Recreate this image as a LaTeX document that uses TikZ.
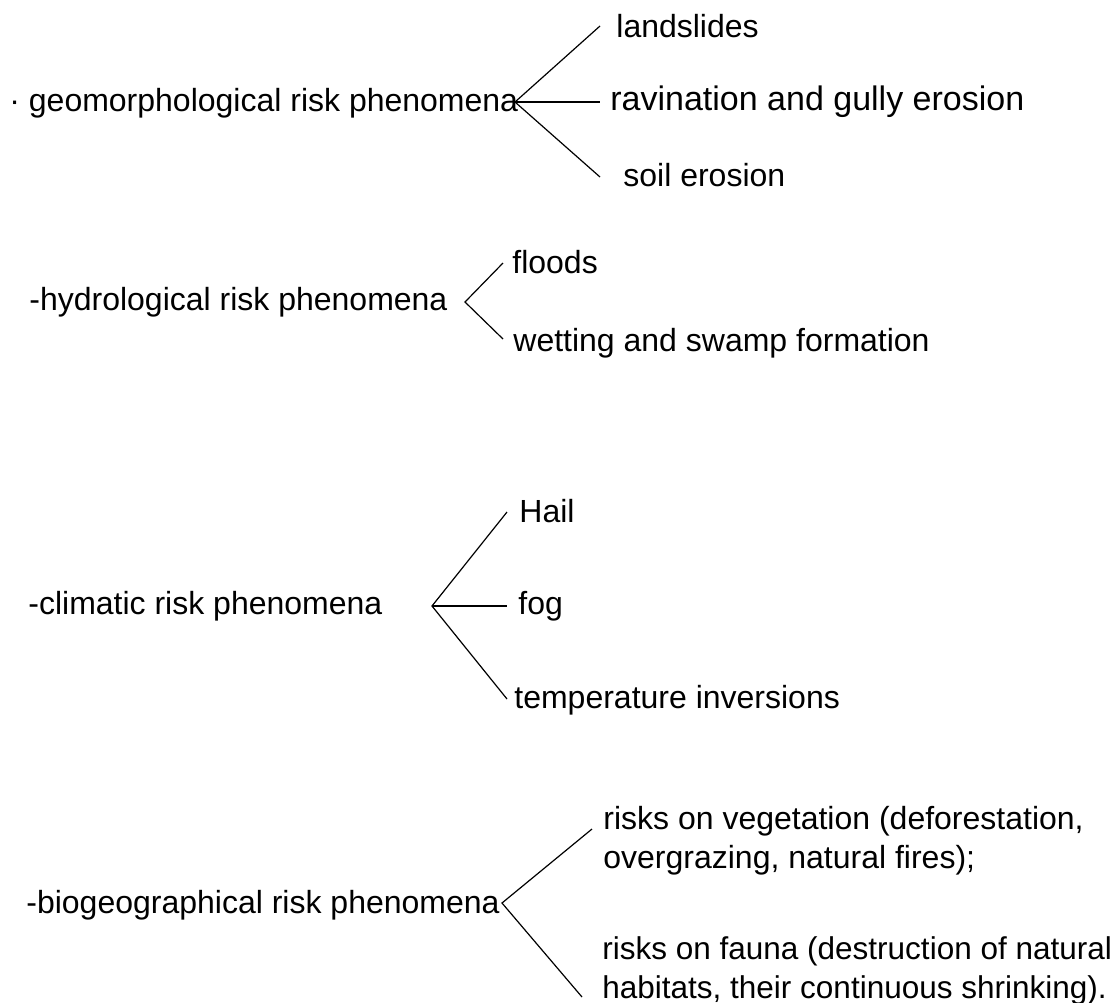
\documentclass[tikz,border=0pt]{standalone}
\usepackage{fontspec}
\setmainfont{Liberation Sans}

\begin{document}
\begin{tikzpicture}[x=0.5pt,y=-0.5pt,
  txt/.style={anchor=base west,inner sep=0pt,align=left,
    font=\fontsize{16}{19.5}\selectfont},
  branch/.style={line width=0.6pt}]
  \useasboundingbox (0,0) rectangle (1119,1002);
  % geomorphological
  \node[txt] (geo) at (9,111) {· geomorphological risk phenomena};
  \coordinate (geoV) at (515,102);
  \coordinate (geoA) at (600,26);
  \coordinate (geoB) at (600,102);
  \coordinate (geoC) at (600,177);
  \node[txt] (landslides) at (616,37) {landslides};
  \node[txt,font=\fontsize{17}{20}\selectfont] (ravination) at (610,110) {ravination and gully erosion};
  \node[txt] (soil) at (623,186) {soil erosion};
  \draw[branch] (geoA) -- (geoV) -- (geoC);
  \draw[branch] (geoV) -- (geoB);
  % hydrological
  \node[txt] (hyd) at (29,310) {-hydrological risk phenomena};
  \coordinate (hydV) at (465,302);
  \coordinate (hydA) at (503,263);
  \coordinate (hydB) at (503,339);
  \node[txt] (floods) at (512,273) {floods};
  \node[txt] (wetting) at (513,351) {wetting and swamp formation};
  \draw[branch] (hydA) -- (hydV) -- (hydB);
  % climatic
  \node[txt] (cli) at (28,614) {-climatic risk phenomena};
  \coordinate (cliV) at (432,606);
  \coordinate (cliA) at (507,512);
  \coordinate (cliB) at (507,606);
  \coordinate (cliC) at (507,699);
  \node[txt] (hail) at (519,522) {Hail};
  \node[txt] (fog) at (518,614) {fog};
  \node[txt] (inversions) at (514,708) {temperature inversions};
  \draw[branch] (cliA) -- (cliV) -- (cliC);
  \draw[branch] (cliV) -- (cliB);
  % biogeographical (two-line nodes sit on their last baseline)
  \node[txt] (bio) at (26,913) {-biogeographical risk phenomena};
  \coordinate (bioV) at (502,903);
  \coordinate (bioA) at (592,829);
  \coordinate (bioB) at (582,997);
  \node[txt] (vegetation) at (603,868) {risks on vegetation (deforestation,\\overgrazing, natural fires);};
  \node[txt,font=\fontsize{15.75}{19.5}\selectfont] (fauna) at (602,998) {risks on fauna (destruction of natural\\habitats, their continuous shrinking).};
  \draw[branch] (bioA) -- (bioV) -- (bioB);
\end{tikzpicture}
\end{document}
